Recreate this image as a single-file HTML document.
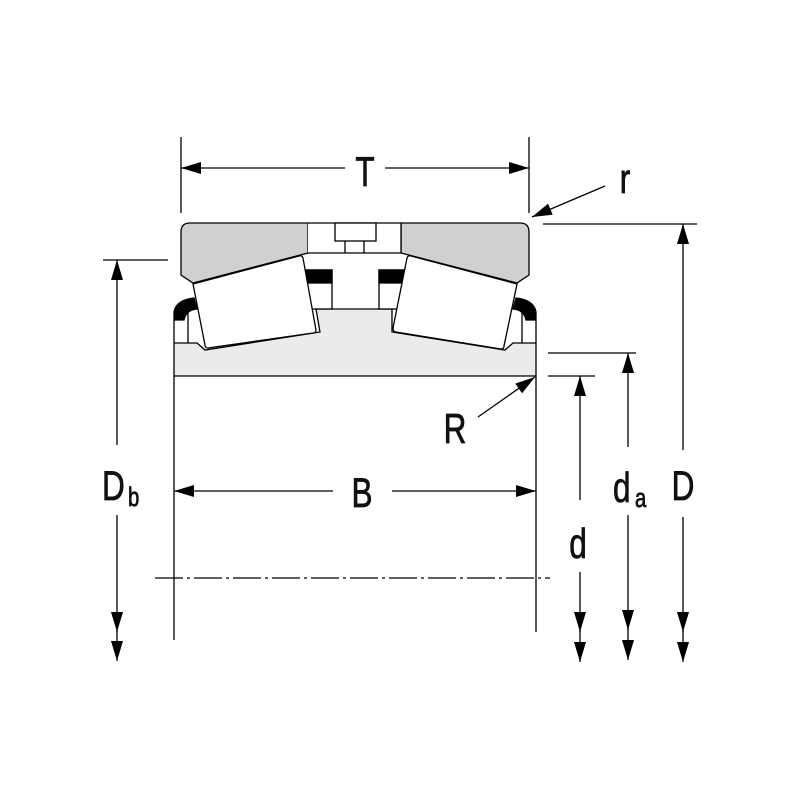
<!DOCTYPE html>
<html><head><style>
html,body{margin:0;padding:0;background:#fff;}
svg{display:block}
text{font-family:"Liberation Sans",sans-serif;fill:#111;stroke:#111;stroke-width:0.8}
</style></head><body>
<svg width="800" height="800" viewBox="0 0 800 800" xmlns="http://www.w3.org/2000/svg">
<defs>
<marker id="a" markerWidth="20" markerHeight="12" refX="20" refY="6" orient="auto" markerUnits="userSpaceOnUse">
<path d="M0,0 L20,6 L0,12 Z" fill="#000"/></marker>
</defs>
<g stroke="#000" stroke-width="1.3" fill="none">
<path d="M174,343 L197,343 L205,350 L320,332 L316,309 L392,309 L392,332 L505,350 L513,343 L536,343 L536,376 L174,376 Z" fill="#ebebeb"/>
<path d="M181,232 Q181,223 190,223 L308,223 L308,253 L193,283 L181,275 Z" fill="#d0d0d0"/>
<path d="M529,232 Q529,223 520,223 L401,223 L401,253 L517,283 L529,275 Z" fill="#d0d0d0"/>
<path d="M308,223 L401,223 L401,253 L308,253" fill="#fff"/>
<rect x="335" y="223" width="41" height="18" fill="#fff"/>
<line x1="345" y1="241" x2="345" y2="253"/><line x1="364" y1="241" x2="364" y2="253"/>
<rect x="305" y="270" width="27" height="39" fill="#fff"/>
<rect x="305" y="270" width="27" height="13" fill="#000"/>
<rect x="379" y="270" width="26" height="39" fill="#fff"/>
<rect x="379" y="270" width="26" height="13" fill="#000"/>
<path d="M174,320 L174,312 Q176,300 194,298 L197,309 Q186,310 184,320 Z" fill="#000"/>
<path d="M536,320 L536,312 Q534,300 516,298 L513,309 Q524,310 526,320 Z" fill="#000"/>
<path d="M174,320 L174,343 M188,313 L188,343 M536,320 L536,343 M522,313 L522,343"/>
<path d="M193,284 L299,256 Q302,255 303,258 L316,330 Q316,333 313,333 L208,348 Q205,348 205,345 Z" fill="#fff"/>
<path d="M517,284 L411,256 Q408,255 407,258 L393,328 Q393,332 396,332 L501,349 Q504,349 504,346 Z" fill="#fff"/>
<line x1="174" y1="376" x2="174" y2="640"/>
<line x1="536" y1="376" x2="536" y2="632"/>
<line x1="181" y1="137" x2="181" y2="213"/>
<line x1="529" y1="137" x2="529" y2="213"/>
<line x1="103" y1="260" x2="168" y2="260"/>
<line x1="543" y1="224" x2="697" y2="224"/>
<line x1="548" y1="353" x2="636" y2="353"/>
<line x1="548" y1="376" x2="595" y2="376"/>
<line x1="155" y1="578" x2="550" y2="578" stroke-dasharray="28,4,3,4"/>
<line x1="345" y1="168" x2="181" y2="168" marker-end="url(#a)"/>
<line x1="385" y1="168" x2="529" y2="168" marker-end="url(#a)"/>
<line x1="333" y1="491" x2="174" y2="491" marker-end="url(#a)"/>
<line x1="392" y1="491" x2="536" y2="491" marker-end="url(#a)"/>
<line x1="117" y1="445" x2="117" y2="260" marker-end="url(#a)"/>
<line x1="117" y1="515" x2="117" y2="632" marker-end="url(#a)"/>
<line x1="117" y1="630" x2="117" y2="661" marker-end="url(#a)"/>
<line x1="580" y1="500" x2="580" y2="376" marker-end="url(#a)"/>
<line x1="580" y1="572" x2="580" y2="632" marker-end="url(#a)"/>
<line x1="580" y1="630" x2="580" y2="662" marker-end="url(#a)"/>
<line x1="628" y1="447" x2="628" y2="353" marker-end="url(#a)"/>
<line x1="628" y1="515" x2="628" y2="630" marker-end="url(#a)"/>
<line x1="628" y1="628" x2="628" y2="660" marker-end="url(#a)"/>
<line x1="683" y1="450" x2="683" y2="224" marker-end="url(#a)"/>
<line x1="683" y1="517" x2="683" y2="632" marker-end="url(#a)"/>
<line x1="683" y1="630" x2="683" y2="662" marker-end="url(#a)"/>
<line x1="605" y1="186" x2="532" y2="217" marker-end="url(#a)"/>
<line x1="478" y1="417" x2="535" y2="377" marker-end="url(#a)"/>
</g>
<g font-size="42">
<text transform="translate(365,186) scale(0.75,1)" text-anchor="middle">T</text>
<text transform="translate(625,193) scale(0.75,1)" text-anchor="middle">r</text>
<text transform="translate(455,443) scale(0.75,1)" text-anchor="middle">R</text>
<text transform="translate(362,507) scale(0.75,1)" text-anchor="middle">B</text>
<text transform="translate(102,500) scale(0.75,1)">D</text>
<text transform="translate(128,506) scale(0.75,1)" font-size="27">b</text>
<text transform="translate(578,558) scale(0.75,1)" text-anchor="middle">d</text>
<text transform="translate(613,502) scale(0.75,1)">d</text>
<text transform="translate(635,507) scale(0.75,1)" font-size="27">a</text>
<text transform="translate(683,500) scale(0.75,1)" text-anchor="middle">D</text>
</g>
</svg>
</body></html>
